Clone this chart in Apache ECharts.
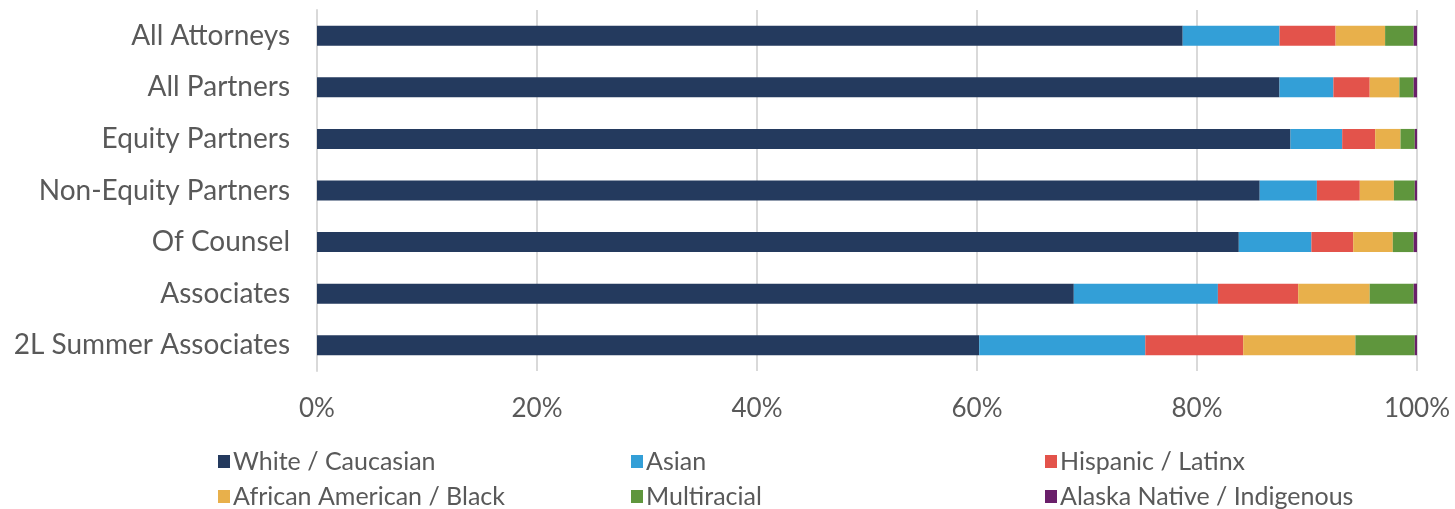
<!DOCTYPE html>
<html>
<head>
<meta charset="utf-8">
<script src="https://cdn.jsdelivr.net/npm/echarts@6/dist/echarts.min.js"></script>
<style>
	html, body { margin: 0; padding: 0; background: #fff; }
	#main { width: 1455px; height: 509px; }
</style>
</head>
<body>
<div id="main"></div>
<script>
var categories = [
	"All Attorneys",
	"All Partners",
	"Equity Partners",
	"Non-Equity Partners",
	"Of Counsel",
	"Associates",
	"2L Summer Associates"
];
var seriesNames = [
	"White / Caucasian",
	"Asian",
	"Hispanic / Latinx",
	"African American / Black",
	"Multiracial",
	"Alaska Native / Indigenous"
];
// percent, same order as categories
var white = [78.7, 87.5, 88.5, 85.7, 83.8, 68.8, 60.2];
var asian = [8.8, 4.9, 4.7, 5.2, 6.6, 13.1, 15.1];
var hispanic = [5.1, 3.3, 3.0, 3.9, 3.8, 7.3, 8.9];
var black = [4.5, 2.7, 2.3, 3.1, 3.6, 6.5, 10.2];
var multi = [2.6, 1.3, 1.3, 1.9, 1.9, 4.0, 5.4];
var native = [0.3, 0.3, 0.2, 0.2, 0.3, 0.3, 0.2];
var xTicks = [0, 20, 40, 60, 80, 100];

var colors = ["#243a5e", "#339fd7", "#e3534b", "#e8b04b", "#5f963d", "#6a1f6a"];
var values = [white, asian, hispanic, black, multi, native];

var chart = echarts.init(document.getElementById("main"));

// one legend per item, laid out as 3 columns x 2 rows
var legendLeft = [213, 626, 1040];
var legendTop = [444, 479];
var legends = seriesNames.map(function (name, i) {
	return {
		left: legendLeft[i % 3],
		top: legendTop[Math.floor(i / 3)],
		itemWidth: 12,
		itemHeight: 13,
		icon: "rect",
		data: [name],
		textStyle: { fontFamily: "Lato", fontSize: 25, color: "#595959", padding: [0, 0, 0, -2] }
	};
});

var option = {
	animation: false,
	color: colors,
	grid: { left: 317, right: 38, top: 10, bottom: 138, containLabel: false },
	legend: legends,
	xAxis: {
		type: "value",
		min: xTicks[0],
		max: xTicks[xTicks.length - 1],
		interval: 20,
		axisLine: { show: false },
		axisTick: { show: false },
		splitLine: { show: true, lineStyle: { color: "#d9d9d9", width: 2 } },
		axisLabel: {
			formatter: "{value}%",
			fontFamily: "Lato",
			fontSize: 26,
			color: "#595959",
			margin: 25
		}
	},
	yAxis: {
		type: "category",
		data: categories,
		inverse: true,
		axisLine: { show: true, lineStyle: { color: "#d9d9d9", width: 2 } },
		axisTick: { show: false },
		axisLabel: {
			fontFamily: "Lato",
			fontSize: 28,
			color: "#595959",
			margin: 27
		}
	},
	series: seriesNames.map(function (name, i) {
		return {
			name: name,
			type: "bar",
			stack: "total",
			barWidth: 20,
			data: values[i],
			itemStyle: { color: colors[i] }
		};
	})
};
chart.setOption(option);
window.addEventListener("resize", chart.resize);
</script>
</body>
</html>
